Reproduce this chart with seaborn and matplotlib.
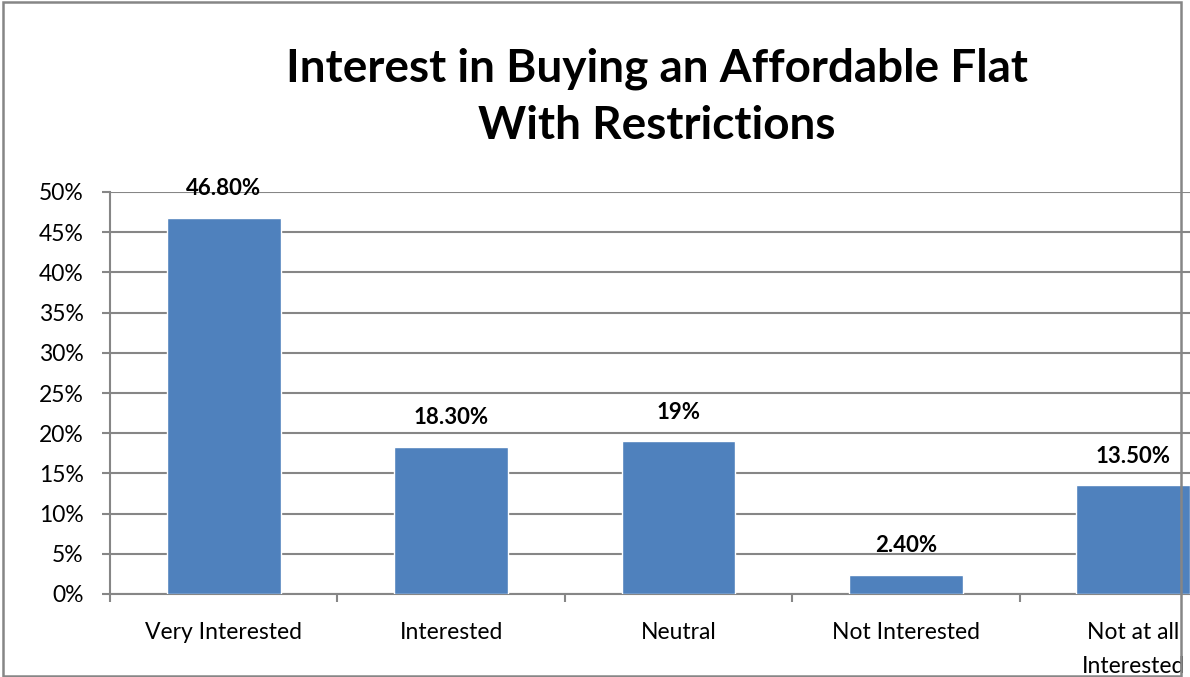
import matplotlib
matplotlib.use("Agg")
import matplotlib.pyplot as plt
import seaborn as sns
import pandas as pd
from matplotlib.patches import Rectangle

categories = ["Very Interested", "Interested", "Neutral", "Not Interested", "Not at all\nInterested"]
values = [46.8, 18.3, 19.0, 2.4, 13.5]
value_labels = ["46.80%", "18.30%", "19%", "2.40%", "13.50%"]
yticks = [0, 5, 10, 15, 20, 25, 30, 35, 40, 45, 50]
ytick_labels = ["0%", "5%", "10%", "15%", "20%", "25%", "30%", "35%", "40%", "45%", "50%"]
title = "Interest in Buying an Affordable Flat\nWith Restrictions"

sns.set_theme(style="white")
plt.rcParams["font.family"] = ["Lato", "DejaVu Sans"]

W, H = 1190, 677
fig = plt.figure(figsize=(W / 100, H / 100), dpi=100)
fig.patch.set_facecolor("white")

grey = "#868686"
ax = fig.add_axes([110 / W, (H - 594) / H, 1137 / W, (594 - 192) / H])

df = pd.DataFrame({"cat": categories, "val": values})
sns.barplot(data=df, x="cat", y="val", color="#4F81BD", saturation=1, width=0.5, ax=ax, zorder=3)

ax.set_xlim(-0.5, len(categories) - 0.5)
ax.set_ylim(0, 50)
ax.set_yticks(yticks)
ax.set_yticklabels(ytick_labels)
ax.set_xlabel("")
ax.set_ylabel("")
ax.yaxis.grid(True, color=grey, linewidth=1.5, zorder=0)
ax.set_axisbelow(True)

for s in ["top", "right"]:
    ax.spines[s].set_visible(False)
for s in ["left", "bottom"]:
    ax.spines[s].set_color(grey)
    ax.spines[s].set_linewidth(1.5)

ax.tick_params(axis="y", which="major", direction="out", length=6, width=1.5, color=grey,
               left=True, pad=13, labelsize=16.5, labelcolor="black")
ax.set_xticks(range(len(categories)))
ax.set_xticklabels(categories, linespacing=1.75)
ax.tick_params(axis="x", which="major", length=0, pad=20, labelsize=16.5, labelcolor="black")
ax.set_xticks([i - 0.5 for i in range(len(categories) + 1)], minor=True)
ax.tick_params(axis="x", which="minor", direction="out", length=6, width=1.5, color=grey, bottom=True)

for i, (v, lab) in enumerate(zip(values, value_labels)):
    ax.annotate(lab, xy=(i, v), xytext=(0, 21), textcoords="offset points",
                ha="center", va="center", fontsize=16, fontweight="bold", color="black")

fig.text(657 / W, 1 - 97 / H, title, ha="center", va="center", fontsize=33,
         fontweight="bold", color="black", linespacing=1.45)

fig.patches.append(Rectangle((3 / W, 1 / H), (1181 - 3) / W, (675 - 1) / H,
                             transform=fig.transFigure, fill=False, edgecolor=grey,
                             linewidth=1.8, zorder=10))

fig.savefig("out.png", dpi=100, facecolor="white")
